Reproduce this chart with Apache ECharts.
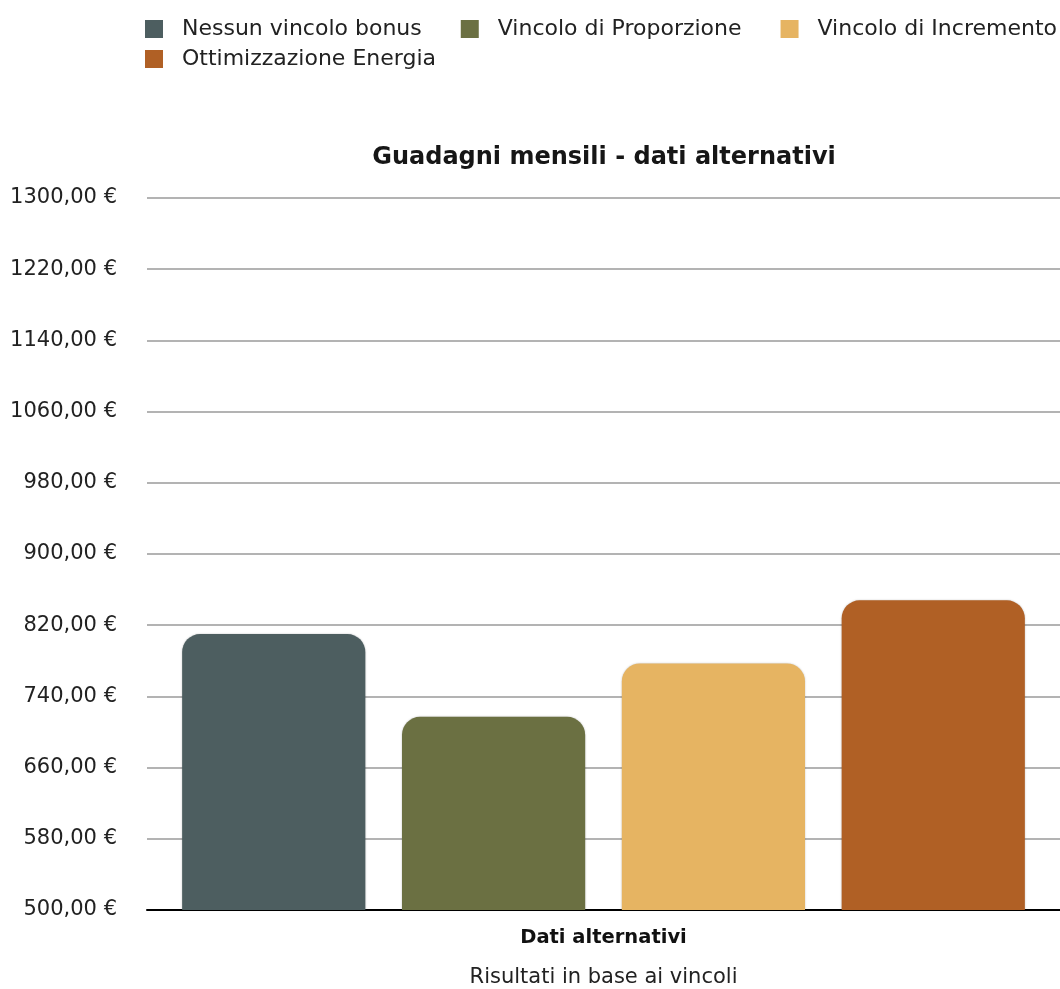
<!DOCTYPE html>
<html>
<head>
<meta charset="utf-8">
<script src="https://cdn.jsdelivr.net/npm/echarts@6/dist/echarts.min.js"></script>
<style>
html,body{margin:0;padding:0;background:#fff;overflow:hidden;}
#chart{width:1060px;height:989px;}
</style>
</head>
<body>
<div id="chart"></div>
<script>
const categories = ['Dati alternativi'];
const seriesNames = ['Nessun vincolo bonus', 'Vincolo di Proporzione', 'Vincolo di Incremento', 'Ottimizzazione Energia'];
const seriesValues = [810, 717, 777, 848];
const seriesColors = ['#4d5e60', '#6b7042', '#e6b462', '#b06025'];
const yTicks = [500, 580, 660, 740, 820, 900, 980, 1060, 1140, 1220, 1300];

const chart = echarts.init(document.getElementById('chart'));
const font = 'DejaVu Sans, Liberation Sans, Arial, sans-serif';

chart.setOption({
  animation: false,
  textStyle: { fontFamily: font },
  title: {
    text: 'Guadagni mensili - dati alternativi',
    left: 599, textAlign: 'center', top: 141,
    textStyle: { fontSize: 24, fontWeight: 'bold', color: '#161616', fontFamily: font }
  },
  legend: {
    left: 145, top: 18, width: 990, padding: 0,
    itemWidth: 18, itemHeight: 18, itemGap: 8,
    icon: 'rect',
    textStyle: { fontSize: 22, lineHeight: 20, color: '#222', padding: [0, 31, 0, 14], fontFamily: font },
    data: seriesNames
  },
  grid: { left: 147, right: 0, top: 198, bottom: 79, outerBoundsMode: 'none' },
  xAxis: {
    type: 'category',
    data: categories,
    name: 'Risultati in base ai vincoli',
    nameLocation: 'middle',
    nameGap: 57,
    nameTextStyle: { fontSize: 21, color: '#222', fontFamily: font },
    axisLine: { lineStyle: { color: '#000', width: 2 } },
    axisTick: { show: false },
    axisLabel: { fontSize: 19.5, fontWeight: 'bold', color: '#111', margin: 18, fontFamily: font }
  },
  yAxis: {
    type: 'value',
    min: yTicks[0], max: yTicks[yTicks.length - 1], interval: yTicks[1] - yTicks[0],
    axisLine: { show: false },
    axisTick: { show: false },
    axisLabel: {
      fontSize: 21, color: '#222', margin: 30, fontFamily: font,
      formatter: v => v.toFixed(2).replace('.', ',') + ' €'
    },
    splitLine: { lineStyle: { color: '#b3b3b3', width: 2 } }
  },
  series: seriesNames.map((name, i) => ({
    name: name,
    type: 'bar',
    barGap: '20%',
    barCategoryGap: '7.7%',
    itemStyle: {
      color: seriesColors[i],
      borderRadius: [18, 18, 0, 0],
      shadowColor: 'rgba(0,0,0,0.25)', shadowBlur: 2
    },
    data: [seriesValues[i]]
  }))
});
</script>
</body>
</html>
